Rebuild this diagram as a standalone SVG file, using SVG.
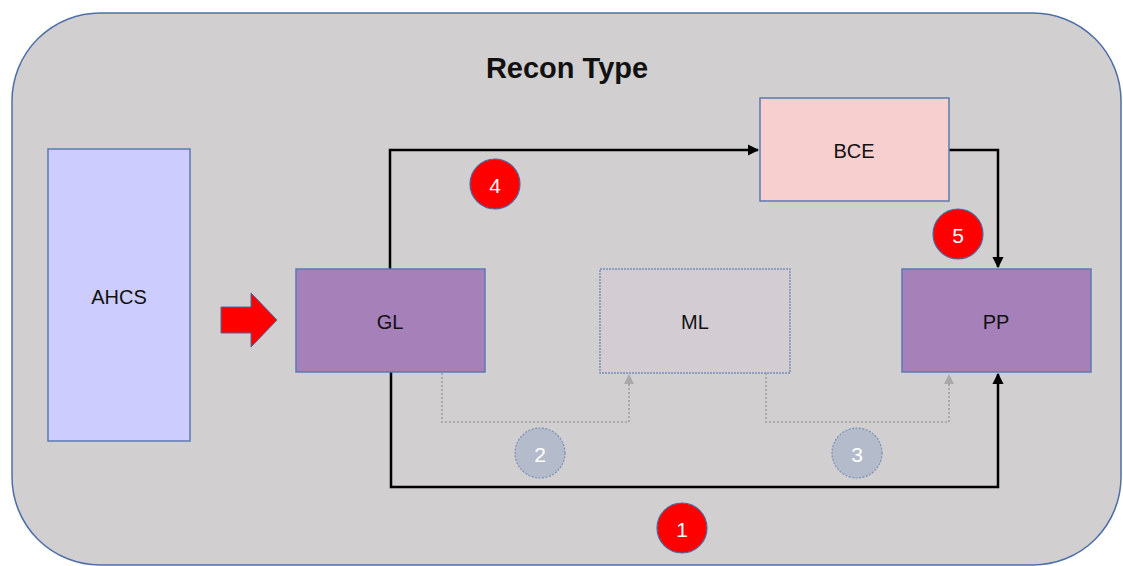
<svg xmlns="http://www.w3.org/2000/svg" width="1123" height="566" viewBox="0 0 1123 566">
<defs>
<style>
.box{stroke:#5b7bb0;stroke-width:1.5}
.lbl{font-family:"Liberation Sans",Arial,sans-serif;font-size:20px;fill:#111;text-anchor:middle;dominant-baseline:central}
.num{font-family:"Liberation Sans",Arial,sans-serif;font-size:21px;fill:#fff;text-anchor:middle;dominant-baseline:central}
.red{fill:#ff0000;stroke:#4a6aa0;stroke-width:1.2}
.grey{fill:#b4bccc;stroke:#7a8fb5;stroke-width:1.2;stroke-dasharray:2 1.5}
.solid{fill:none;stroke:#000;stroke-width:2.5}
.dot{fill:none;stroke:#a9a9a9;stroke-width:2;stroke-dasharray:2 2}
</style>
<marker id="ab" viewBox="0 0 10 10" refX="9" refY="5" markerWidth="4.5" markerHeight="4.5" orient="auto" markerUnits="strokeWidth"><path d="M0,0L10,5L0,10z" fill="#000"/></marker>
<marker id="ag" viewBox="0 0 10 10" refX="9" refY="5" markerWidth="5" markerHeight="5" orient="auto" markerUnits="strokeWidth"><path d="M0,0L10,5L0,10z" fill="#a9a9a9"/></marker>
</defs>
<rect x="12" y="13" width="1109" height="552" rx="88" ry="88" fill="#d1cfd0" stroke="#4f6fa8" stroke-width="1.5"/>
<text x="567" y="68" font-family="'Liberation Sans',Arial,sans-serif" font-size="29" font-weight="bold" fill="#111" text-anchor="middle" dominant-baseline="central">Recon Type</text>
<g id="connectors">
<path class="solid" d="M390,269V150H758" marker-end="url(#ab)"/>
<path class="solid" d="M949,150H998V267" marker-end="url(#ab)"/>
<path class="solid" d="M391,372V487H998V374" marker-end="url(#ab)"/>
<path class="dot" d="M442,373V422H629V375" marker-end="url(#ag)"/>
<path class="dot" d="M766,373V422H949V375" marker-end="url(#ag)"/>
<path d="M221,307H251V293L277,320L251,347V333H221Z" fill="#ff0000" stroke="#4a6aa0" stroke-width="1"/>
</g>
<g id="AHCS"><rect class="box" x="48" y="149" width="142" height="292" fill="#ccccff"/><text class="lbl" x="119" y="297">AHCS</text></g>
<g id="GL"><rect class="box" x="296" y="269" width="189" height="103" fill="#a680b8"/><text class="lbl" x="390" y="322">GL</text></g>
<g id="ML"><rect x="600" y="269" width="190" height="104" fill="#d3ccd3" stroke="#7a8fb5" stroke-width="1.5" stroke-dasharray="2 1"/><text class="lbl" x="695" y="322">ML</text></g>
<g id="PP"><rect class="box" x="902" y="269" width="189" height="103" fill="#a680b8"/><text class="lbl" x="996" y="322">PP</text></g>
<g id="BCE"><rect class="box" x="760" y="98" width="189" height="103" fill="#f8cfcf"/><text class="lbl" x="854" y="151">BCE</text></g>
<g id="c1"><circle class="red" cx="682" cy="528" r="25"/><text class="num" x="682" y="529">1</text></g>
<g id="c2"><circle class="grey" cx="540" cy="453" r="25"/><text class="num" x="540" y="454">2</text></g>
<g id="c3"><circle class="grey" cx="857" cy="453" r="25"/><text class="num" x="857" y="454">3</text></g>
<g id="c4"><circle class="red" cx="495" cy="184" r="25"/><text class="num" x="495" y="185">4</text></g>
<g id="c5"><circle class="red" cx="958" cy="234" r="25"/><text class="num" x="958" y="235">5</text></g>
</svg>
